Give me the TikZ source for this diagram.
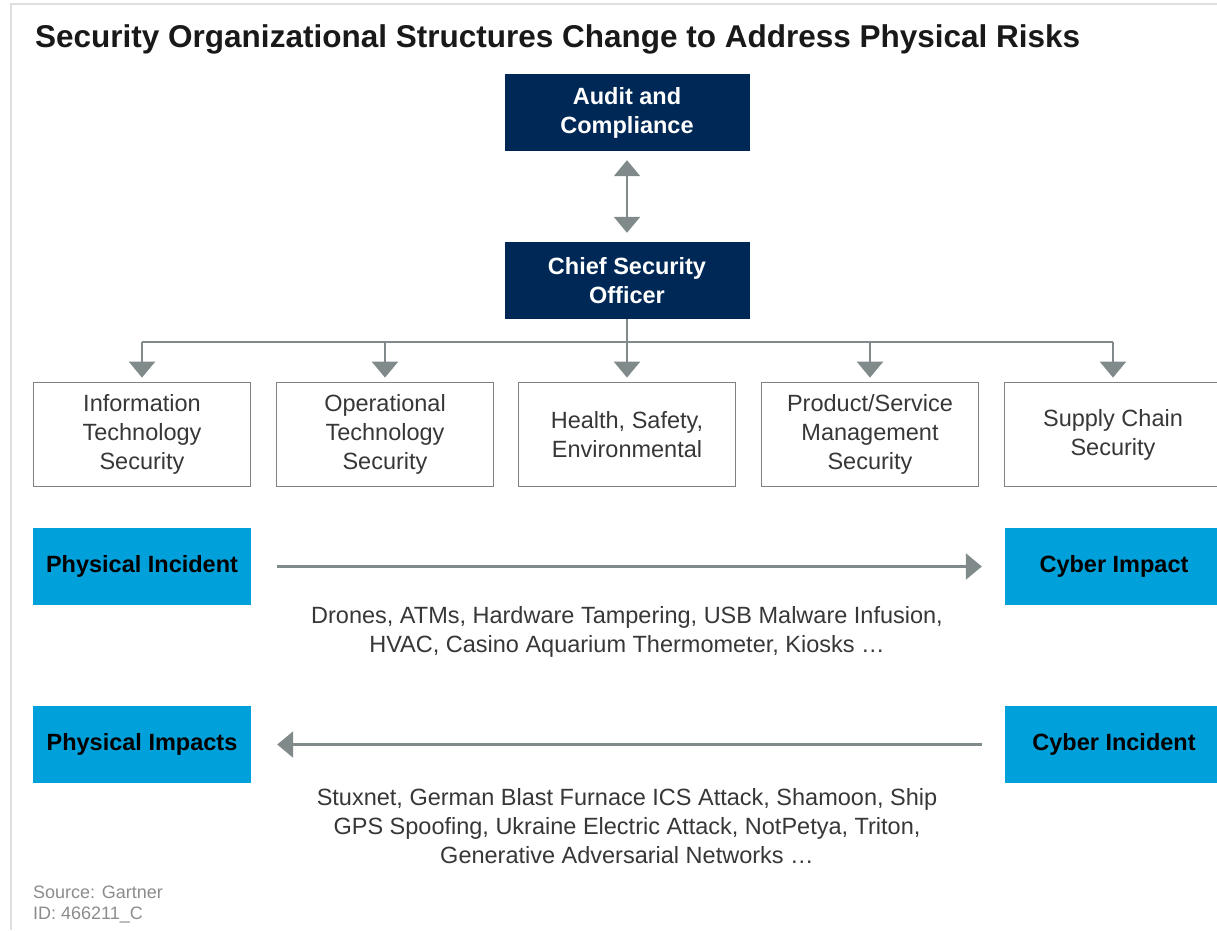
\documentclass[tikz,border=0pt]{standalone}
\usepackage{fontspec}
\setmainfont{Liberation Sans}
\usetikzlibrary{arrows.meta}
\definecolor{gnavy}{RGB}{0,40,86}
\definecolor{gcyan}{RGB}{0,160,218}
\definecolor{garrow}{RGB}{128,138,138}
\definecolor{gborder}{RGB}{128,130,130}
\definecolor{gtext}{RGB}{55,55,55}
\definecolor{gframe}{RGB}{222,222,222}
\begin{document}
\begin{tikzpicture}[x=1pt, y=-1pt,
  txt/.style={font=\fontsize{23.5}{29}\selectfont, align=center, inner sep=0pt},
  topbox/.style={txt, fill=gnavy, text=white, font=\bfseries\fontsize{23.5}{29}\selectfont, minimum width=245pt, minimum height=77pt},
  unitbox/.style={txt, draw=gborder, line width=1.8pt, text=gtext, minimum width=217pt, minimum height=104pt},
  eventbox/.style={txt, fill=gcyan, text=black, font=\bfseries\fontsize{23.5}{29}\selectfont, minimum width=218pt, minimum height=77pt},
  note/.style={txt, text=gtext},
  link/.style={draw=garrow, line width=2.5pt, -{Triangle[width=26pt, length=16pt]}},
  srcnote/.style={anchor=west, inner sep=0pt, text=black!45, font=\fontsize{18}{23}\selectfont}]
\useasboundingbox (0,0) rectangle (1217,930);
\draw[gframe, line width=2.5pt] (11,930) -- (11,4) -- (1217,4);
\node[anchor=base west, inner sep=0pt, font=\bfseries\fontsize{31.5}{36}\selectfont, text=black!90] (title) at (35,47) {Security Organizational Structures Change to Address Physical Risks};
% top of the chart
\node[topbox] (audit) at (627,112.5) {Audit and\\Compliance};
\node[topbox] (cso) at (627,280.5) {Chief Security\\Officer};
\draw[link, {Triangle[width=26pt, length=16pt]}-{Triangle[width=26pt, length=16pt]}, shorten <=9pt, shorten >=9pt] (audit) -- (cso);
% security units
\node[unitbox] (itsec) at (142,434.5) {Information\\Technology\\Security};
\node[unitbox] (otsec) at (385,434.5) {Operational\\Technology\\Security};
\node[unitbox] (hse) at (627,434.5) {Health, Safety,\\Environmental};
\node[unitbox] (prodsec) at (870,434.5) {Product/Service\\Management\\Security};
\node[unitbox] (scsec) at (1113,434.5) {Supply Chain\\Security};
\coordinate (busL) at (142,342);
\coordinate (busR) at (1113,342);
\draw[garrow, line width=2.5pt] (busL) -- (busR);
\draw[link, shorten >=4pt] (cso) -- (hse);
\foreach \u in {itsec, otsec, prodsec, scsec}
  \draw[link, shorten >=4pt] (\u.north |- busL) -- (\u.north);
% physical to cyber
\node[eventbox] (physinc) at (142,566.5) {Physical Incident};
\node[eventbox] (cyberimp) at (1114,566.5) {Cyber Impact};
\draw[link, shorten <=26pt, shorten >=23pt] (physinc) -- (cyberimp);
\node[note] (drones) at (627,632) {Drones, ATMs, Hardware Tampering, USB Malware Infusion,\\HVAC, Casino Aquarium Thermometer, Kiosks \dots};
% cyber to physical
\node[eventbox] (physimp) at (142,744.5) {Physical Impacts};
\node[eventbox] (cyberinc) at (1114,744.5) {Cyber Incident};
\draw[link, shorten <=23pt, shorten >=26pt] (cyberinc) -- (physimp);
\node[note] (stuxnet) at (627,826) {Stuxnet, German Blast Furnace ICS Attack, Shamoon, Ship\\GPS Spoofing, Ukraine Electric Attack, NotPetya, Triton,\\Generative Adversarial Networks \dots};
\node[srcnote] (source) at (33,892) {Source: Gartner};
\node[srcnote] (srcid) at (33,915) {ID: 466211\_C};
\end{tikzpicture}
\end{document}
